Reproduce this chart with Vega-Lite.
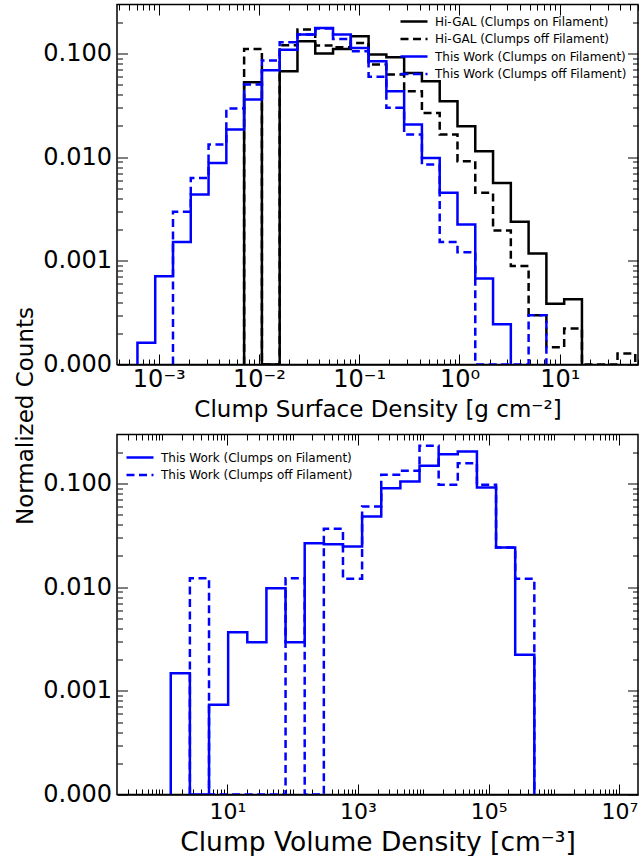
{
"$schema": "https://vega.github.io/schema/vega-lite/v6.json",
"background": "white",
"padding": {"left": 13, "top": 2.5, "right": 0, "bottom": 0},
"spacing": 70,
"bounds": "flush",
"resolve": {"scale": {"color": "independent", "strokeDash": "independent"}},
"config": {
  "font": "DejaVu Sans",
  "view": {"stroke": "black", "strokeWidth": 1.5},
  "axis": {"grid": false, "tickColor": "black", "labelColor": "black", "titleColor": "black", "titleFontWeight": "normal", "domainColor": "black", "labelFont": "DejaVu Sans", "titleFont": "DejaVu Sans"},
  "legend": {"labelFont": "DejaVu Sans", "labelColor": "black"}
},
"datasets": {
"top": [
{"s":"Hi-GAL (Clumps on Filament)","i":0,"x":0.0071069,"y":0},
{"s":"Hi-GAL (Clumps on Filament)","i":1,"x":0.0071069,"y":0.0529},
{"s":"Hi-GAL (Clumps on Filament)","i":2,"x":0.010692,"y":0},
{"s":"Hi-GAL (Clumps on Filament)","i":3,"x":0.016084,"y":0.0675},
{"s":"Hi-GAL (Clumps on Filament)","i":4,"x":0.0242,"y":0.1314},
{"s":"Hi-GAL (Clumps on Filament)","i":5,"x":0.036408,"y":0.1},
{"s":"Hi-GAL (Clumps on Filament)","i":6,"x":0.054774,"y":0.1108},
{"s":"Hi-GAL (Clumps on Filament)","i":7,"x":0.082406,"y":0.1468},
{"s":"Hi-GAL (Clumps on Filament)","i":8,"x":0.12398,"y":0.0978},
{"s":"Hi-GAL (Clumps on Filament)","i":9,"x":0.18652,"y":0.092},
{"s":"Hi-GAL (Clumps on Filament)","i":10,"x":0.2806,"y":0.065},
{"s":"Hi-GAL (Clumps on Filament)","i":11,"x":0.42212,"y":0.054},
{"s":"Hi-GAL (Clumps on Filament)","i":12,"x":0.63518,"y":0.0347},
{"s":"Hi-GAL (Clumps on Filament)","i":13,"x":0.95553,"y":0.0199},
{"s":"Hi-GAL (Clumps on Filament)","i":14,"x":1.4378,"y":0.01142},
{"s":"Hi-GAL (Clumps on Filament)","i":15,"x":2.1627,"y":0.00565},
{"s":"Hi-GAL (Clumps on Filament)","i":16,"x":3.2537,"y":0.00238},
{"s":"Hi-GAL (Clumps on Filament)","i":17,"x":4.895,"y":0.00118},
{"s":"Hi-GAL (Clumps on Filament)","i":18,"x":7.364,"y":0.000385},
{"s":"Hi-GAL (Clumps on Filament)","i":19,"x":11.079,"y":0.000425},
{"s":"Hi-GAL (Clumps on Filament)","i":20,"x":16.669,"y":0},
{"s":"Hi-GAL (Clumps off Filament)","i":0,"x":0.0071069,"y":0},
{"s":"Hi-GAL (Clumps off Filament)","i":1,"x":0.0071069,"y":0.1108},
{"s":"Hi-GAL (Clumps off Filament)","i":2,"x":0.010692,"y":0},
{"s":"Hi-GAL (Clumps off Filament)","i":3,"x":0.016084,"y":0.12},
{"s":"Hi-GAL (Clumps off Filament)","i":4,"x":0.0242,"y":0.17},
{"s":"Hi-GAL (Clumps off Filament)","i":5,"x":0.036408,"y":0.1194},
{"s":"Hi-GAL (Clumps off Filament)","i":6,"x":0.054774,"y":0.115},
{"s":"Hi-GAL (Clumps off Filament)","i":7,"x":0.082406,"y":0.1266},
{"s":"Hi-GAL (Clumps off Filament)","i":8,"x":0.12398,"y":0.0783},
{"s":"Hi-GAL (Clumps off Filament)","i":9,"x":0.18652,"y":0.0627},
{"s":"Hi-GAL (Clumps off Filament)","i":10,"x":0.2806,"y":0.0433},
{"s":"Hi-GAL (Clumps off Filament)","i":11,"x":0.42212,"y":0.0267},
{"s":"Hi-GAL (Clumps off Filament)","i":12,"x":0.63518,"y":0.01656},
{"s":"Hi-GAL (Clumps off Filament)","i":13,"x":0.95553,"y":0.00915},
{"s":"Hi-GAL (Clumps off Filament)","i":14,"x":1.4378,"y":0.00453},
{"s":"Hi-GAL (Clumps off Filament)","i":15,"x":2.1627,"y":0.00196},
{"s":"Hi-GAL (Clumps off Filament)","i":16,"x":3.2537,"y":0.00089},
{"s":"Hi-GAL (Clumps off Filament)","i":17,"x":4.895,"y":0.000299},
{"s":"Hi-GAL (Clumps off Filament)","i":18,"x":7.364,"y":0.000147},
{"s":"Hi-GAL (Clumps off Filament)","i":19,"x":11.079,"y":0.000223},
{"s":"Hi-GAL (Clumps off Filament)","i":20,"x":16.669,"y":0},
{"s":"Hi-GAL (Clumps off Filament)","i":21,"x":25.077,"y":0},
{"s":"Hi-GAL (Clumps off Filament)","i":22,"x":37.725,"y":0.000128},
{"s":"Hi-GAL (Clumps off Filament)","i":23,"x":56.76,"y":0},
{"s":"This Work (Clumps on Filament)","i":0,"x":0.0006131,"y":0},
{"s":"This Work (Clumps on Filament)","i":1,"x":0.0006131,"y":0.000162},
{"s":"This Work (Clumps on Filament)","i":2,"x":0.0009222,"y":0.000711},
{"s":"This Work (Clumps on Filament)","i":3,"x":0.0013873,"y":0.00152},
{"s":"This Work (Clumps on Filament)","i":4,"x":0.0020871,"y":0.00436},
{"s":"This Work (Clumps on Filament)","i":5,"x":0.0031398,"y":0.00881},
{"s":"This Work (Clumps on Filament)","i":6,"x":0.0047239,"y":0.0185},
{"s":"This Work (Clumps on Filament)","i":7,"x":0.0071069,"y":0.036},
{"s":"This Work (Clumps on Filament)","i":8,"x":0.010692,"y":0.069},
{"s":"This Work (Clumps on Filament)","i":9,"x":0.016084,"y":0.109},
{"s":"This Work (Clumps on Filament)","i":10,"x":0.0242,"y":0.1525},
{"s":"This Work (Clumps on Filament)","i":11,"x":0.036408,"y":0.1766},
{"s":"This Work (Clumps on Filament)","i":12,"x":0.054774,"y":0.1525},
{"s":"This Work (Clumps on Filament)","i":13,"x":0.082406,"y":0.113},
{"s":"This Work (Clumps on Filament)","i":14,"x":0.12398,"y":0.084},
{"s":"This Work (Clumps on Filament)","i":15,"x":0.18652,"y":0.0433},
{"s":"This Work (Clumps on Filament)","i":16,"x":0.2806,"y":0.0207},
{"s":"This Work (Clumps on Filament)","i":17,"x":0.42212,"y":0.00984},
{"s":"This Work (Clumps on Filament)","i":18,"x":0.63518,"y":0.00453},
{"s":"This Work (Clumps on Filament)","i":19,"x":0.95553,"y":0.00224},
{"s":"This Work (Clumps on Filament)","i":20,"x":1.4378,"y":0.000676},
{"s":"This Work (Clumps on Filament)","i":21,"x":2.1627,"y":0.000244},
{"s":"This Work (Clumps on Filament)","i":22,"x":3.2537,"y":0},
{"s":"This Work (Clumps off Filament)","i":0,"x":0.0013873,"y":0},
{"s":"This Work (Clumps off Filament)","i":1,"x":0.0013873,"y":0.00297},
{"s":"This Work (Clumps off Filament)","i":2,"x":0.0020871,"y":0.0063},
{"s":"This Work (Clumps off Filament)","i":3,"x":0.0031398,"y":0.01326},
{"s":"This Work (Clumps off Filament)","i":4,"x":0.0047239,"y":0.0295},
{"s":"This Work (Clumps off Filament)","i":5,"x":0.0071069,"y":0.0502},
{"s":"This Work (Clumps off Filament)","i":6,"x":0.010692,"y":0.0856},
{"s":"This Work (Clumps off Filament)","i":7,"x":0.016084,"y":0.1285},
{"s":"This Work (Clumps off Filament)","i":8,"x":0.0242,"y":0.1525},
{"s":"This Work (Clumps off Filament)","i":9,"x":0.036408,"y":0.174},
{"s":"This Work (Clumps off Filament)","i":10,"x":0.054774,"y":0.1384},
{"s":"This Work (Clumps off Filament)","i":11,"x":0.082406,"y":0.105},
{"s":"This Work (Clumps off Filament)","i":12,"x":0.12398,"y":0.0598},
{"s":"This Work (Clumps off Filament)","i":13,"x":0.18652,"y":0.0299},
{"s":"This Work (Clumps off Filament)","i":14,"x":0.2806,"y":0.01656},
{"s":"This Work (Clumps off Filament)","i":15,"x":0.42212,"y":0.00851},
{"s":"This Work (Clumps off Filament)","i":16,"x":0.63518,"y":0.00152},
{"s":"This Work (Clumps off Filament)","i":17,"x":0.95553,"y":0.00121},
{"s":"This Work (Clumps off Filament)","i":18,"x":1.4378,"y":0},
{"s":"This Work (Clumps off Filament)","i":19,"x":2.1627,"y":0},
{"s":"This Work (Clumps off Filament)","i":20,"x":3.2537,"y":0},
{"s":"This Work (Clumps off Filament)","i":21,"x":4.895,"y":0.000299},
{"s":"This Work (Clumps off Filament)","i":22,"x":7.364,"y":0}
],
"bottom": [
{"s":"This Work (Clumps on Filament)","i":0,"x":1.3601,"y":0},
{"s":"This Work (Clumps on Filament)","i":1,"x":1.3601,"y":0.00148},
{"s":"This Work (Clumps on Filament)","i":2,"x":2.67,"y":0},
{"s":"This Work (Clumps on Filament)","i":3,"x":5.2419,"y":0.000735},
{"s":"This Work (Clumps on Filament)","i":4,"x":10.289,"y":0.00368},
{"s":"This Work (Clumps on Filament)","i":5,"x":20.199,"y":0.00295},
{"s":"This Work (Clumps on Filament)","i":6,"x":39.648,"y":0.00978},
{"s":"This Work (Clumps on Filament)","i":7,"x":77.834,"y":0.00295},
{"s":"This Work (Clumps on Filament)","i":8,"x":152.79,"y":0.02656},
{"s":"This Work (Clumps on Filament)","i":9,"x":299.95,"y":0.026},
{"s":"This Work (Clumps on Filament)","i":10,"x":588.85,"y":0.0247},
{"s":"This Work (Clumps on Filament)","i":11,"x":1155.6,"y":0.0481},
{"s":"This Work (Clumps on Filament)","i":12,"x":2268.6,"y":0.0901},
{"s":"This Work (Clumps on Filament)","i":13,"x":4453.3,"y":0.1045},
{"s":"This Work (Clumps on Filament)","i":14,"x":8741.4,"y":0.148},
{"s":"This Work (Clumps on Filament)","i":15,"x":17162,"y":0.1916},
{"s":"This Work (Clumps on Filament)","i":16,"x":33689,"y":0.2036},
{"s":"This Work (Clumps on Filament)","i":17,"x":66123,"y":0.0915},
{"s":"This Work (Clumps on Filament)","i":18,"x":129810,"y":0.02415},
{"s":"This Work (Clumps on Filament)","i":19,"x":254790,"y":0.00223},
{"s":"This Work (Clumps on Filament)","i":20,"x":500130,"y":0},
{"s":"This Work (Clumps off Filament)","i":0,"x":2.67,"y":0},
{"s":"This Work (Clumps off Filament)","i":1,"x":2.67,"y":0.01222},
{"s":"This Work (Clumps off Filament)","i":2,"x":5.2419,"y":0},
{"s":"This Work (Clumps off Filament)","i":3,"x":77.834,"y":0.01222},
{"s":"This Work (Clumps off Filament)","i":4,"x":152.79,"y":0},
{"s":"This Work (Clumps off Filament)","i":5,"x":299.95,"y":0.0366},
{"s":"This Work (Clumps off Filament)","i":6,"x":588.85,"y":0.01206},
{"s":"This Work (Clumps off Filament)","i":7,"x":1155.6,"y":0.06},
{"s":"This Work (Clumps off Filament)","i":8,"x":2268.6,"y":0.1213},
{"s":"This Work (Clumps off Filament)","i":9,"x":4453.3,"y":0.1326},
{"s":"This Work (Clumps off Filament)","i":10,"x":8741.4,"y":0.231},
{"s":"This Work (Clumps off Filament)","i":11,"x":17162,"y":0.0972},
{"s":"This Work (Clumps off Filament)","i":12,"x":33689,"y":0.157},
{"s":"This Work (Clumps off Filament)","i":13,"x":66123,"y":0.0972},
{"s":"This Work (Clumps off Filament)","i":14,"x":129810,"y":0.0242},
{"s":"This Work (Clumps off Filament)","i":15,"x":254790,"y":0.01206},
{"s":"This Work (Clumps off Filament)","i":16,"x":500130,"y":0}
]
},
"vconcat": [
{
  "width": 521, "height": 360,
  "data": {"name": "top"},
  "layer": [
    {
      "mark": {"type": "line", "interpolate": "step-after", "strokeWidth": 2.5, "clip": true, "invalid": null},
      "encoding": {
        "x": {"field": "x", "type": "quantitative",
          "scale": {"type": "log", "domain": [0.0003833, 60.4], "nice": false},
          "axis": {"orient": "bottom", "values": [0.001, 0.01, 0.1, 1, 10],
            "labelExpr": "datum.value < 0.005 ? '10⁻³' : datum.value < 0.05 ? '10⁻²' : datum.value < 0.5 ? '10⁻¹' : datum.value < 5 ? '10⁰' : '10¹'",
            "tickSize": -10.5, "tickWidth": 1, "labelPadding": 13, "labelFontSize": 24, "labelFlush": false, "labelOverlap": false,
            "domain": true, "domainWidth": 1.5, "zindex": 1,
            "title": "Clump Surface Density [g cm⁻²]", "titleFontSize": 23, "titlePadding": 7}},
        "y": {"field": "y", "type": "quantitative",
          "scale": {"type": "log", "domain": [0.0001, 0.297], "nice": false, "clamp": true},
          "axis": {"orient": "left", "values": [0.0001, 0.001, 0.01, 0.1], "format": ".3f",
            "tickSize": -10.5, "tickWidth": 1, "labelPadding": 16, "labelFontSize": 24, "labelOverlap": false, "labelFlush": false,
            "domain": false,
            "title": "Normalized Counts", "titleFontSize": 23, "titleX": -85, "titleY": 411, "titleAngle": -90, "titleBaseline": "alphabetic", "titleAlign": "center"}},
        "color": {"field": "s", "type": "nominal",
          "scale": {"domain": ["Hi-GAL (Clumps on Filament)", "Hi-GAL (Clumps off Filament)", "This Work (Clumps on Filament)", "This Work (Clumps off Filament)"], "range": ["#000000", "#000000", "#0000ff", "#0000ff"]},
          "legend": {"title": null, "orient": "top-right", "offset": 11, "padding": 0, "labelFontSize": 12, "labelLimit": 0, "labelOffset": 15, "symbolType": "M-4,0H4", "symbolSize": 45.6, "symbolStrokeWidth": 2.5, "rowPadding": 5.5}},
        "strokeDash": {"field": "s", "type": "nominal",
          "scale": {"domain": ["Hi-GAL (Clumps on Filament)", "Hi-GAL (Clumps off Filament)", "This Work (Clumps on Filament)", "This Work (Clumps off Filament)"], "range": [[1, 0], [8, 4.5], [1, 0], [8, 4.5]]},
          "legend": {"title": null, "orient": "top-right", "offset": 11, "padding": 0, "labelFontSize": 12, "labelLimit": 0, "labelOffset": 15, "symbolType": "M-4,0H4", "symbolSize": 45.6, "symbolStrokeWidth": 2.5, "rowPadding": 5.5}},
        "order": {"field": "i", "type": "quantitative"}
      }
    },
    {
      "mark": {"type": "point", "opacity": 0},
      "encoding": {
        "x": {"field": "x", "type": "quantitative", "axis": {"orient": "bottom", "values": [0.0004,0.0005,0.0006,0.0007,0.0008,0.0009,0.002,0.003,0.004,0.005,0.006,0.007,0.008,0.009,0.02,0.03,0.04,0.05,0.06,0.07,0.08,0.09,0.2,0.3,0.4,0.5,0.6,0.7,0.8,0.9,2,3,4,5,6,7,8,9,20,30,40,50,60], "tickSize": -5.5, "tickWidth": 1, "labels": false, "domain": false, "title": null}},
        "y": {"field": "y", "type": "quantitative", "axis": {"orient": "left", "values": [0.0002,0.0003,0.0004,0.0005,0.0006,0.0007,0.0008,0.0009,0.002,0.003,0.004,0.005,0.006,0.007,0.008,0.009,0.02,0.03,0.04,0.05,0.06,0.07,0.08,0.09,0.2], "tickSize": -5.5, "tickWidth": 1, "labels": false, "domain": false, "title": null}}
      }
    },
    {
      "mark": {"type": "point", "opacity": 0},
      "encoding": {
        "x": {"field": "x", "type": "quantitative", "axis": {"orient": "top", "values": [0.001, 0.01, 0.1, 1, 10], "tickSize": -10.5, "tickWidth": 1, "labels": false, "domain": false, "title": null}},
        "y": {"field": "y", "type": "quantitative", "axis": {"orient": "right", "values": [0.0001, 0.001, 0.01, 0.1], "tickSize": -10.5, "tickWidth": 1, "labels": false, "domain": false, "title": null}}
      }
    },
    {
      "mark": {"type": "point", "opacity": 0},
      "encoding": {
        "x": {"field": "x", "type": "quantitative", "axis": {"orient": "top", "values": [0.0004,0.0005,0.0006,0.0007,0.0008,0.0009,0.002,0.003,0.004,0.005,0.006,0.007,0.008,0.009,0.02,0.03,0.04,0.05,0.06,0.07,0.08,0.09,0.2,0.3,0.4,0.5,0.6,0.7,0.8,0.9,2,3,4,5,6,7,8,9,20,30,40,50,60], "tickSize": -5.5, "tickWidth": 1, "labels": false, "domain": false, "title": null}},
        "y": {"field": "y", "type": "quantitative", "axis": {"orient": "right", "values": [0.0002,0.0003,0.0004,0.0005,0.0006,0.0007,0.0008,0.0009,0.002,0.003,0.004,0.005,0.006,0.007,0.008,0.009,0.02,0.03,0.04,0.05,0.06,0.07,0.08,0.09,0.2], "tickSize": -5.5, "tickWidth": 1, "labels": false, "domain": false, "title": null}}
      }
    }
  ],
  "resolve": {"axis": {"x": "independent", "y": "independent"}}
},
{
  "width": 521, "height": 360,
  "data": {"name": "bottom"},
  "layer": [
    {
      "mark": {"type": "line", "interpolate": "step-after", "strokeWidth": 2.5, "clip": true, "invalid": null},
      "encoding": {
        "x": {"field": "x", "type": "quantitative",
          "scale": {"type": "log", "domain": [0.2046, 19320000], "nice": false},
          "axis": {"orient": "bottom", "values": [10, 1000, 100000, 10000000],
            "labelExpr": "datum.value < 100 ? '10¹' : datum.value < 10000 ? '10³' : datum.value < 1000000 ? '10⁵' : '10⁷'",
            "tickSize": -10.5, "tickWidth": 1, "labelPadding": 17, "labelFontSize": 22, "labelFlush": false, "labelOverlap": false,
            "domain": true, "domainWidth": 1.5, "zindex": 1,
            "title": "Clump Volume Density [cm⁻³]", "titleFontSize": 26.5, "titlePadding": 7}},
        "y": {"field": "y", "type": "quantitative",
          "scale": {"type": "log", "domain": [0.0001, 0.297], "nice": false, "clamp": true},
          "axis": {"orient": "left", "values": [0.0001, 0.001, 0.01, 0.1], "format": ".3f",
            "tickSize": -10.5, "tickWidth": 1, "labelPadding": 16, "labelFontSize": 24, "labelOverlap": false, "labelFlush": false,
            "domain": false, "title": null}},
        "color": {"field": "s", "type": "nominal",
          "scale": {"domain": ["This Work (Clumps on Filament)", "This Work (Clumps off Filament)"], "range": ["#0000ff", "#0000ff"]},
          "legend": {"title": null, "orient": "top-left", "offset": 17, "padding": 0, "labelFontSize": 12, "labelLimit": 0, "labelOffset": 15, "symbolType": "M-4,0H4", "symbolSize": 45.6, "symbolStrokeWidth": 2.5, "rowPadding": 5.5}},
        "strokeDash": {"field": "s", "type": "nominal",
          "scale": {"domain": ["This Work (Clumps on Filament)", "This Work (Clumps off Filament)"], "range": [[1, 0], [8, 4.5]]},
          "legend": {"title": null, "orient": "top-left", "offset": 17, "padding": 0, "labelFontSize": 12, "labelLimit": 0, "labelOffset": 15, "symbolType": "M-4,0H4", "symbolSize": 45.6, "symbolStrokeWidth": 2.5, "rowPadding": 5.5}},
        "order": {"field": "i", "type": "quantitative"}
      }
    },
    {
      "mark": {"type": "point", "opacity": 0},
      "encoding": {
        "x": {"field": "x", "type": "quantitative", "axis": {"orient": "bottom", "values": [0.3,0.4,0.5,0.6,0.7,0.8,0.9,1,2,3,4,5,6,7,8,9,20,30,40,50,60,70,80,90,100,200,300,400,500,600,700,800,900,2000,3000,4000,5000,6000,7000,8000,9000,10000,20000,30000,40000,50000,60000,70000,80000,90000,200000,300000,400000,500000,600000,700000,800000,900000,1000000,2000000,3000000,4000000,5000000,6000000,7000000,8000000,9000000], "tickSize": -5.5, "tickWidth": 1, "labels": false, "domain": false, "title": null}},
        "y": {"field": "y", "type": "quantitative", "axis": {"orient": "left", "values": [0.0002,0.0003,0.0004,0.0005,0.0006,0.0007,0.0008,0.0009,0.002,0.003,0.004,0.005,0.006,0.007,0.008,0.009,0.02,0.03,0.04,0.05,0.06,0.07,0.08,0.09,0.2], "tickSize": -5.5, "tickWidth": 1, "labels": false, "domain": false, "title": null}}
      }
    },
    {
      "mark": {"type": "point", "opacity": 0},
      "encoding": {
        "x": {"field": "x", "type": "quantitative", "axis": {"orient": "top", "values": [10, 1000, 100000, 10000000], "tickSize": -10.5, "tickWidth": 1, "labels": false, "domain": false, "title": null}},
        "y": {"field": "y", "type": "quantitative", "axis": {"orient": "right", "values": [0.0001, 0.001, 0.01, 0.1], "tickSize": -10.5, "tickWidth": 1, "labels": false, "domain": false, "title": null}}
      }
    },
    {
      "mark": {"type": "point", "opacity": 0},
      "encoding": {
        "x": {"field": "x", "type": "quantitative", "axis": {"orient": "top", "values": [0.3,0.4,0.5,0.6,0.7,0.8,0.9,1,2,3,4,5,6,7,8,9,20,30,40,50,60,70,80,90,100,200,300,400,500,600,700,800,900,2000,3000,4000,5000,6000,7000,8000,9000,10000,20000,30000,40000,50000,60000,70000,80000,90000,200000,300000,400000,500000,600000,700000,800000,900000,1000000,2000000,3000000,4000000,5000000,6000000,7000000,8000000,9000000], "tickSize": -5.5, "tickWidth": 1, "labels": false, "domain": false, "title": null}},
        "y": {"field": "y", "type": "quantitative", "axis": {"orient": "right", "values": [0.0002,0.0003,0.0004,0.0005,0.0006,0.0007,0.0008,0.0009,0.002,0.003,0.004,0.005,0.006,0.007,0.008,0.009,0.02,0.03,0.04,0.05,0.06,0.07,0.08,0.09,0.2], "tickSize": -5.5, "tickWidth": 1, "labels": false, "domain": false, "title": null}}
      }
    }
  ],
  "resolve": {"axis": {"x": "independent", "y": "independent"}}
}
]
}
